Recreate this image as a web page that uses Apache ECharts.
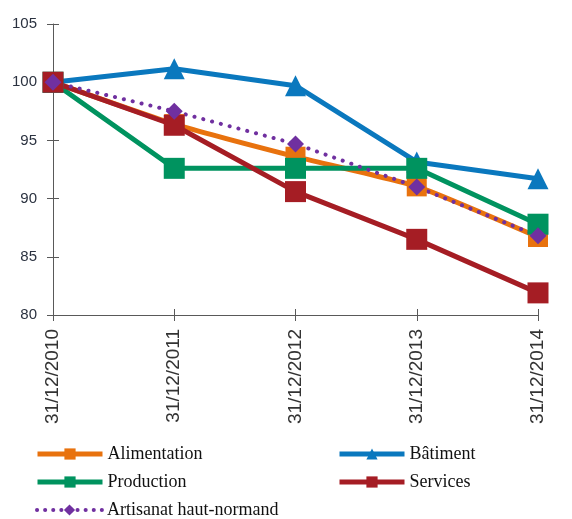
<!DOCTYPE html>
<html>
<head>
<meta charset="utf-8">
<script src="https://cdn.jsdelivr.net/npm/echarts@6/dist/echarts.min.js"></script>
<style>html,body{margin:0;padding:0;background:#fff}#c{width:572px;height:519px}</style>
</head>
<body>
<div id="c"></div>
<script>
const categories = ['31/12/2010', '31/12/2011', '31/12/2012', '31/12/2013', '31/12/2014'];
const alimentation = [100, 96.4, 93.6, 91.05, 86.7];
const batiment = [100, 101.15, 99.7, 93.15, 91.7];
const production = [100, 92.6, 92.6, 92.6, 87.8];
const services = [100, 96.3, 90.6, 86.5, 81.9];
const artisanat = [100, 97.5, 94.7, 91.0, 86.8];
const yTicks = { min: 80, max: 105, interval: 5 };

const axisColor = '#595959';
const chart = echarts.init(document.getElementById('c'));

function lineSeries(name, data, color, symbol, size, extra) {
  return Object.assign({
    name, type: 'line', data, xAxisIndex: 0, yAxisIndex: 0,
    symbol, symbolSize: size, showSymbol: true,
    lineStyle: { color, width: 5 },
    itemStyle: { color },
    emphasis: { disabled: true },
    animation: false
  }, extra || {});
}

function legendItem(name, left, top, lineStyle) {
  return {
    left, top, itemWidth: 65, itemHeight: 14, itemGap: 10,
    data: [name],
    lineStyle: lineStyle || { width: 5 },
    textStyle: { fontFamily: 'Liberation Serif', fontSize: 18, color: '#111' },
    selectedMode: false
  };
}

chart.setOption({
  animation: false,
  grid: { left: 53, right: 34, top: 24, bottom: 204, containLabel: false },
  xAxis: [
    {
      type: 'category', data: categories, boundaryGap: false, position: 'bottom',
      axisLine: { show: true, lineStyle: { color: axisColor, width: 1 } },
      axisTick: { show: true, length: 6, lineStyle: { color: axisColor } },
      axisLabel: { rotate: 90, margin: 14, fontFamily: 'Liberation Sans', fontSize: 19, color: '#333' },
      splitLine: { show: false }
    },
    {
      type: 'category', data: categories, boundaryGap: false, position: 'bottom',
      axisLine: { show: false },
      axisTick: { show: true, inside: true, length: 6, lineStyle: { color: axisColor } },
      axisLabel: { show: false }, splitLine: { show: false }
    }
  ],
  yAxis: [
    {
      type: 'value', min: yTicks.min, max: yTicks.max, interval: yTicks.interval, position: 'left',
      axisLine: { show: true, lineStyle: { color: axisColor, width: 1 } },
      axisTick: { show: true, length: 6, lineStyle: { color: axisColor } },
      axisLabel: { margin: 16, fontFamily: 'Liberation Sans', fontSize: 15, color: '#2b3240' },
      splitLine: { show: false }
    },
    {
      type: 'value', min: yTicks.min, max: yTicks.max, interval: yTicks.interval, position: 'left',
      axisLine: { show: false },
      axisTick: { show: true, inside: true, length: 6, lineStyle: { color: axisColor } },
      axisLabel: { show: false }, splitLine: { show: false }
    }
  ],
  legend: [
    legendItem('Alimentation', 30, 440),
    legendItem('Production', 30, 468),
    legendItem('Artisanat haut-normand', 30, 496, { width: 4, type: [0.1, 8], cap: 'round' }),
    legendItem('Bâtiment', 332, 440),
    legendItem('Services', 332, 468)
  ],
  series: [
    lineSeries('Alimentation', alimentation, '#E8720E', 'rect', 20, { smooth: 0.15 }),
    lineSeries('Bâtiment', batiment, '#0A78BE', 'triangle', 21),
    lineSeries('Production', production, '#00935F', 'rect', 21),
    lineSeries('Services', services, '#A51D24', 'rect', 21),
    lineSeries('Artisanat haut-normand', artisanat, '#7030A0', 'diamond', 17, {
      lineStyle: { color: '#7030A0', width: 4, type: [0.1, 9], cap: 'round' }
    })
  ]
});
</script>
</body>
</html>
